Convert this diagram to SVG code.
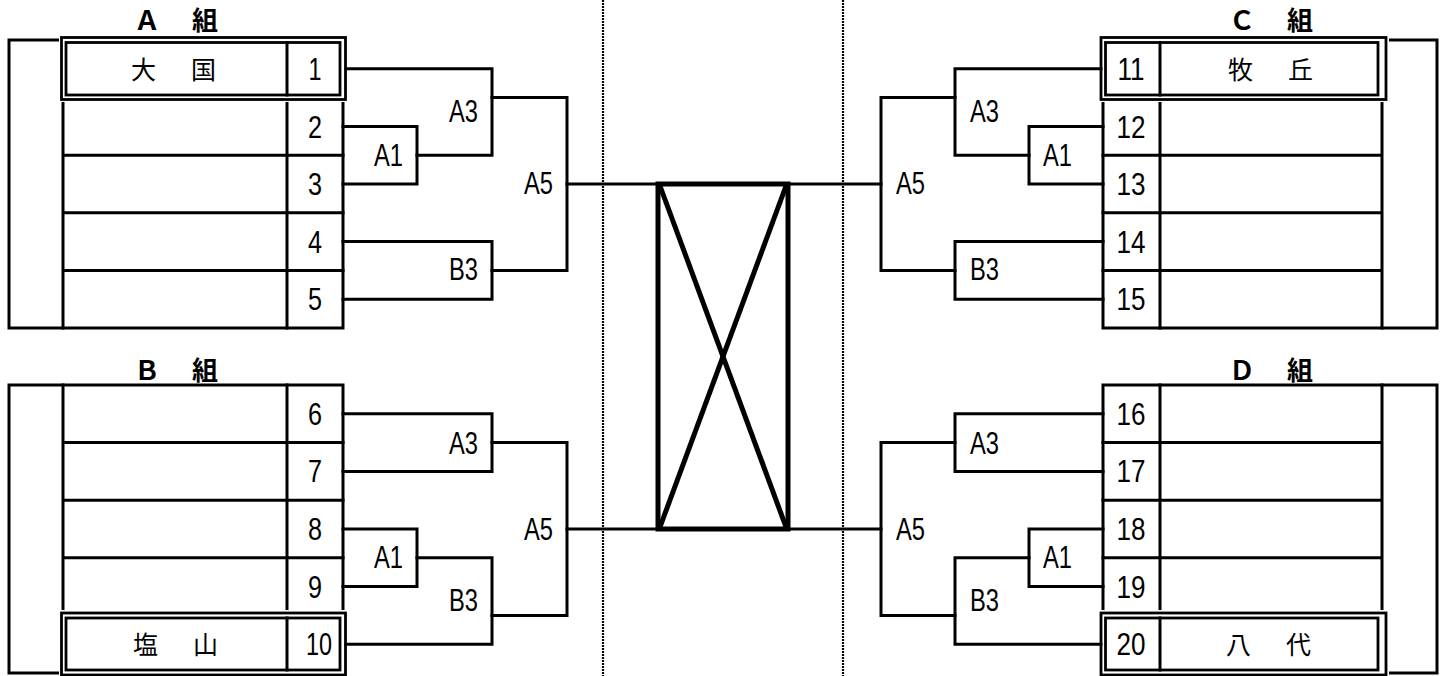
<svg xmlns="http://www.w3.org/2000/svg" width="1446" height="676" viewBox="0 0 1446 676">
<style>
.ln{fill:none;stroke:#000;stroke-width:3;stroke-linejoin:miter;stroke-linecap:square}
.tb{fill:#fff;stroke:#000;stroke-width:3}
.db{fill:none;stroke:#000;stroke-width:2.8}
.wh{fill:#fff;stroke:none}
.num{font-family:"Liberation Sans",Arial,sans-serif;font-size:32px;text-anchor:middle;fill:#000}
.lab{font-family:"Liberation Sans",Arial,sans-serif;font-size:31px;fill:#000}
.name{font-family:"Noto Sans CJK JP","Noto Sans CJK SC",sans-serif;font-size:25px;letter-spacing:5px;fill:#000}
.grp{font-family:"Noto Sans CJK JP","Noto Sans CJK SC",sans-serif;font-size:26px;font-weight:bold;letter-spacing:3px;fill:#000}
.dot{fill:none;stroke:#000;stroke-width:2.2;stroke-dasharray:2 1}
</style>
<rect width="1446" height="676" fill="#fff"/>
<g id="dividers">
<line class="dot" x1="603" y1="0" x2="603" y2="676"/>
<line class="dot" x1="843" y1="0" x2="843" y2="676"/>
</g>
<g id="groupA">
<text class="grp" x="134" y="30">Ａ　組</text>
<rect class="tb" x="9" y="40" width="334" height="288"/>
<path class="ln" d="M63,40V328M287,40V328M63,97.6H343M63,155.2H343M63,212.8H343M63,270.4H343"/>
<rect class="wh" x="59" y="35" width="289" height="67"/>
<rect class="db" x="61.5" y="37.5" width="284" height="62"/>
<rect class="db" x="66" y="42.5" width="274" height="52.5"/>
<line class="ln" x1="287" y1="42.5" x2="287" y2="95"/>
<text class="name" x="131" y="79">大　国</text>
<text class="num" x="315" y="80" textLength="13" lengthAdjust="spacingAndGlyphs">1</text>
<text class="num" x="315" y="138" textLength="14" lengthAdjust="spacingAndGlyphs">2</text>
<text class="num" x="315" y="195" textLength="14" lengthAdjust="spacingAndGlyphs">3</text>
<text class="num" x="315" y="253" textLength="14" lengthAdjust="spacingAndGlyphs">4</text>
<text class="num" x="315" y="310" textLength="14" lengthAdjust="spacingAndGlyphs">5</text>
</g>
<g id="groupB">
<text class="grp" x="134" y="380">Ｂ　組</text>
<rect class="tb" x="9" y="385" width="334" height="288"/>
<path class="ln" d="M63,385V673M287,385V673M63,442.6H343M63,500.2H343M63,557.8H343M63,615.4H343"/>
<rect class="wh" x="59" y="610" width="289" height="66"/>
<rect class="db" x="61.5" y="613" width="284" height="62"/>
<rect class="db" x="66" y="618" width="274" height="52"/>
<line class="ln" x1="287" y1="618" x2="287" y2="670"/>
<text class="name" x="133" y="654">塩　山</text>
<text class="num" x="315" y="425" textLength="14" lengthAdjust="spacingAndGlyphs">6</text>
<text class="num" x="315" y="482" textLength="14" lengthAdjust="spacingAndGlyphs">7</text>
<text class="num" x="315" y="540" textLength="14" lengthAdjust="spacingAndGlyphs">8</text>
<text class="num" x="315" y="598" textLength="14" lengthAdjust="spacingAndGlyphs">9</text>
<text class="num" x="319" y="655" textLength="26" lengthAdjust="spacingAndGlyphs">10</text>
</g>
<g id="groupC">
<text class="grp" x="1229" y="30">Ｃ　組</text>
<rect class="tb" x="1103" y="40" width="334" height="288"/>
<path class="ln" d="M1160,40V328M1382,40V328M1103,97.6H1382M1103,155.2H1382M1103,212.8H1382M1103,270.4H1382"/>
<rect class="wh" x="1098" y="35" width="291" height="67"/>
<rect class="db" x="1101" y="37.5" width="285" height="62"/>
<rect class="db" x="1105.5" y="42.5" width="272.5" height="52.5"/>
<line class="ln" x1="1160" y1="42.5" x2="1160" y2="95"/>
<text class="name" x="1228" y="79">牧　丘</text>
<text class="num" x="1131" y="80" textLength="27" lengthAdjust="spacingAndGlyphs">11</text>
<text class="num" x="1131" y="138" textLength="29" lengthAdjust="spacingAndGlyphs">12</text>
<text class="num" x="1131" y="195" textLength="29" lengthAdjust="spacingAndGlyphs">13</text>
<text class="num" x="1131" y="253" textLength="29" lengthAdjust="spacingAndGlyphs">14</text>
<text class="num" x="1131" y="310" textLength="29" lengthAdjust="spacingAndGlyphs">15</text>
</g>
<g id="groupD">
<text class="grp" x="1229" y="380">Ｄ　組</text>
<rect class="tb" x="1103" y="385" width="334" height="288"/>
<path class="ln" d="M1160,385V673M1382,385V673M1103,442.6H1382M1103,500.2H1382M1103,557.8H1382M1103,615.4H1382"/>
<rect class="wh" x="1098" y="610" width="291" height="66"/>
<rect class="db" x="1101" y="613" width="285" height="62"/>
<rect class="db" x="1105.5" y="618" width="272.5" height="52"/>
<line class="ln" x1="1160" y1="618" x2="1160" y2="670"/>
<text class="name" x="1226" y="654">八　代</text>
<text class="num" x="1131" y="425" textLength="29" lengthAdjust="spacingAndGlyphs">16</text>
<text class="num" x="1131" y="482" textLength="29" lengthAdjust="spacingAndGlyphs">17</text>
<text class="num" x="1131" y="540" textLength="29" lengthAdjust="spacingAndGlyphs">18</text>
<text class="num" x="1131" y="598" textLength="29" lengthAdjust="spacingAndGlyphs">19</text>
<text class="num" x="1131" y="655" textLength="29" lengthAdjust="spacingAndGlyphs">20</text>
</g>
<g id="center">
<rect x="658" y="184" width="130" height="345" fill="none" stroke="#000" stroke-width="5"/>
<line x1="660" y1="186" x2="786" y2="527" stroke="#000" stroke-width="5"/>
<line x1="786" y1="186" x2="660" y2="527" stroke="#000" stroke-width="5"/>
</g>
<g id="connectors">
<path class="ln" d="M346,68.8H492V155.2H417"/>
<path class="ln" d="M343,126.4H417V184H343"/>
<path class="ln" d="M492,97.6H567V270.4H492"/>
<path class="ln" d="M343,241.6H492V299.2H343"/>
<path class="ln" d="M567,184H658"/>
<path class="ln" d="M343,413.8H492V471.4H343"/>
<path class="ln" d="M343,529H417V586.6H343"/>
<path class="ln" d="M417,557.8H492V644.2H346"/>
<path class="ln" d="M492,442.6H567V615.4H492"/>
<path class="ln" d="M567,529H658"/>
<path class="ln" d="M1101,68.8H955V155.2H1029"/>
<path class="ln" d="M1103,126.4H1029V184H1103"/>
<path class="ln" d="M955,97.6H881V270.4H955"/>
<path class="ln" d="M1103,241.6H955V299.2H1103"/>
<path class="ln" d="M881,184H788"/>
<path class="ln" d="M1103,413.8H955V471.4H1103"/>
<path class="ln" d="M1103,529H1029V586.6H1103"/>
<path class="ln" d="M1029,557.8H955V644.2H1101"/>
<path class="ln" d="M955,442.6H881V615.4H955"/>
<path class="ln" d="M881,529H788"/>
</g>
<g id="labels">
<text class="lab" x="449" y="122" textLength="29" lengthAdjust="spacingAndGlyphs">A3</text>
<text class="lab" x="374" y="166" textLength="29" lengthAdjust="spacingAndGlyphs">A1</text>
<text class="lab" x="524" y="194" textLength="29" lengthAdjust="spacingAndGlyphs">A5</text>
<text class="lab" x="449" y="280" textLength="29" lengthAdjust="spacingAndGlyphs">B3</text>
<text class="lab" x="449" y="454" textLength="29" lengthAdjust="spacingAndGlyphs">A3</text>
<text class="lab" x="374" y="568" textLength="29" lengthAdjust="spacingAndGlyphs">A1</text>
<text class="lab" x="524" y="540" textLength="29" lengthAdjust="spacingAndGlyphs">A5</text>
<text class="lab" x="449" y="611" textLength="29" lengthAdjust="spacingAndGlyphs">B3</text>
<text class="lab" x="970" y="122" textLength="29" lengthAdjust="spacingAndGlyphs">A3</text>
<text class="lab" x="1043" y="166" textLength="29" lengthAdjust="spacingAndGlyphs">A1</text>
<text class="lab" x="896" y="194" textLength="29" lengthAdjust="spacingAndGlyphs">A5</text>
<text class="lab" x="970" y="280" textLength="29" lengthAdjust="spacingAndGlyphs">B3</text>
<text class="lab" x="970" y="454" textLength="29" lengthAdjust="spacingAndGlyphs">A3</text>
<text class="lab" x="1043" y="568" textLength="29" lengthAdjust="spacingAndGlyphs">A1</text>
<text class="lab" x="896" y="540" textLength="29" lengthAdjust="spacingAndGlyphs">A5</text>
<text class="lab" x="970" y="611" textLength="29" lengthAdjust="spacingAndGlyphs">B3</text>
</g>
</svg>
